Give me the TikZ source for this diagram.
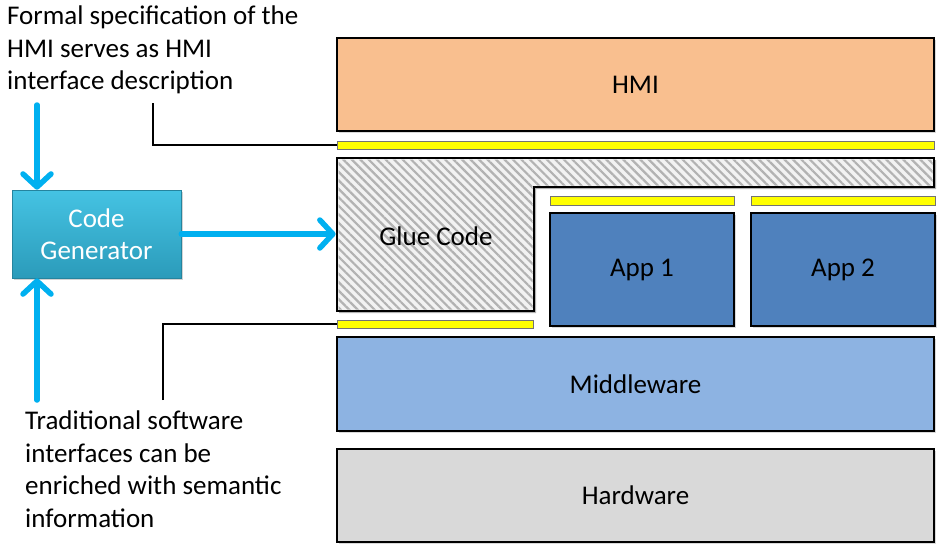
\documentclass[tikz,border=0pt]{standalone}
\usepackage{fontspec}
\setmainfont{Carlito}
\usetikzlibrary{arrows.meta,positioning,calc,shadows,patterns.meta}
\definecolor{hmiorange}{HTML}{F9BF8F}
\definecolor{appblue}{HTML}{4F81BD}
\definecolor{midblue}{HTML}{8DB3E2}
\definecolor{hwgray}{HTML}{D9D9D9}
\definecolor{genlight}{HTML}{45C3E3}
\definecolor{gendark}{HTML}{2B9BBA}
\definecolor{feedcyan}{HTML}{00B0F0}
\definecolor{ifyellow}{HTML}{FFFF00}
\tikzset{layer/.style={draw,line width=2.8pt,inner sep=0pt,font=\fontsize{27}{32}\selectfont,
    drop shadow={opacity=.3,shadow xshift=2pt,shadow yshift=-2pt}},
  iface/.style={draw=black!55,fill=ifyellow,line width=.8pt,inner sep=0pt},
  feed/.style={feedcyan,line width=5.5pt,line cap=round,
    -{Straight Barb[length=13pt,width=28pt,line cap=round,round]}},
  lead/.style={line width=1.3pt},
  note/.style={align=left,anchor=north west,inner sep=0pt,font=\fontsize{27}{32.5}\selectfont}}

\begin{document}
\begin{tikzpicture}[x=1pt,y=-1pt]
\useasboundingbox (0,0) rectangle (940,546);
% software stack
\node[layer,fill=hmiorange,minimum width=597pt,minimum height=93pt] (hmi) at (635.5,84.5) {HMI};
\node[iface,minimum width=597pt,minimum height=8pt] (hmiif) at (635.5,145) {};
\fill[black,opacity=.3] (339,160) -- (936,160) -- (936,189) -- (536,189) -- (536,313) -- (339,313) -- cycle;
\filldraw[fill=black!5,line width=2.8pt] (337,158) -- (934,158) -- (934,187) -- (534,187) -- (534,311) -- (337,311) -- cycle;
\fill[pattern={Lines[angle=-45,distance=6pt,line width=2.2pt]},pattern color=black!30]
  (338.5,159.5) -- (932.5,159.5) -- (932.5,185.5) -- (532.5,185.5) -- (532.5,309.5) -- (338.5,309.5) -- cycle;
\node[font=\fontsize{27}{32}\selectfont] (glue) at (436,236) {Glue Code};
\node[iface,minimum width=196pt,minimum height=8pt] (glueif) at (435,324) {};
\foreach \n/\x in {1/642,2/843} {
  \node[iface,minimum width=184pt,minimum height=9pt] (app\n if) at (\x,200.5) {};
  \node[layer,fill=appblue,minimum width=184pt,minimum height=113pt] (app\n) at (\x,269.5) {App \n};}
\node[layer,fill=midblue,minimum width=597pt,minimum height=94pt] (mw) at (635.5,384) {Middleware};
\node[layer,fill=hwgray,minimum width=597pt,minimum height=93pt] (hw) at (635.5,495.5) {Hardware};
% generator and its inputs
\node[top color=genlight,bottom color=gendark,draw=gendark!85!black,line width=.6pt,
  minimum width=169pt,minimum height=88pt,align=center,text=white,
  font=\fontsize{27}{32}\selectfont,
  drop shadow={opacity=.35,shadow xshift=2pt,shadow yshift=-2pt}] (gen) at (96.5,234) {Code\\Generator};
\coordinate (specin) at (37,105);
\coordinate (apiin) at (37,400);
\draw[feed] (specin) -- (specin |- gen.north);
\draw[feed] (apiin) -- (apiin |- gen.south);
\draw[feed] (gen.east) -- (gen.east -| hmi.west);
% annotations
\node[note] (spec) at (7,6) {Formal specification of the\\HMI serves as HMI\\interface description};
\node[note] (api) at (25,411) {Traditional software\\interfaces can be\\enriched with semantic\\information};
\coordinate (speclead) at (153,103);
\coordinate (apilead) at (163,400);
\draw[lead] (speclead) |- (hmiif.west);
\draw[lead] (apilead) |- (glueif.west);
\end{tikzpicture}
\end{document}
